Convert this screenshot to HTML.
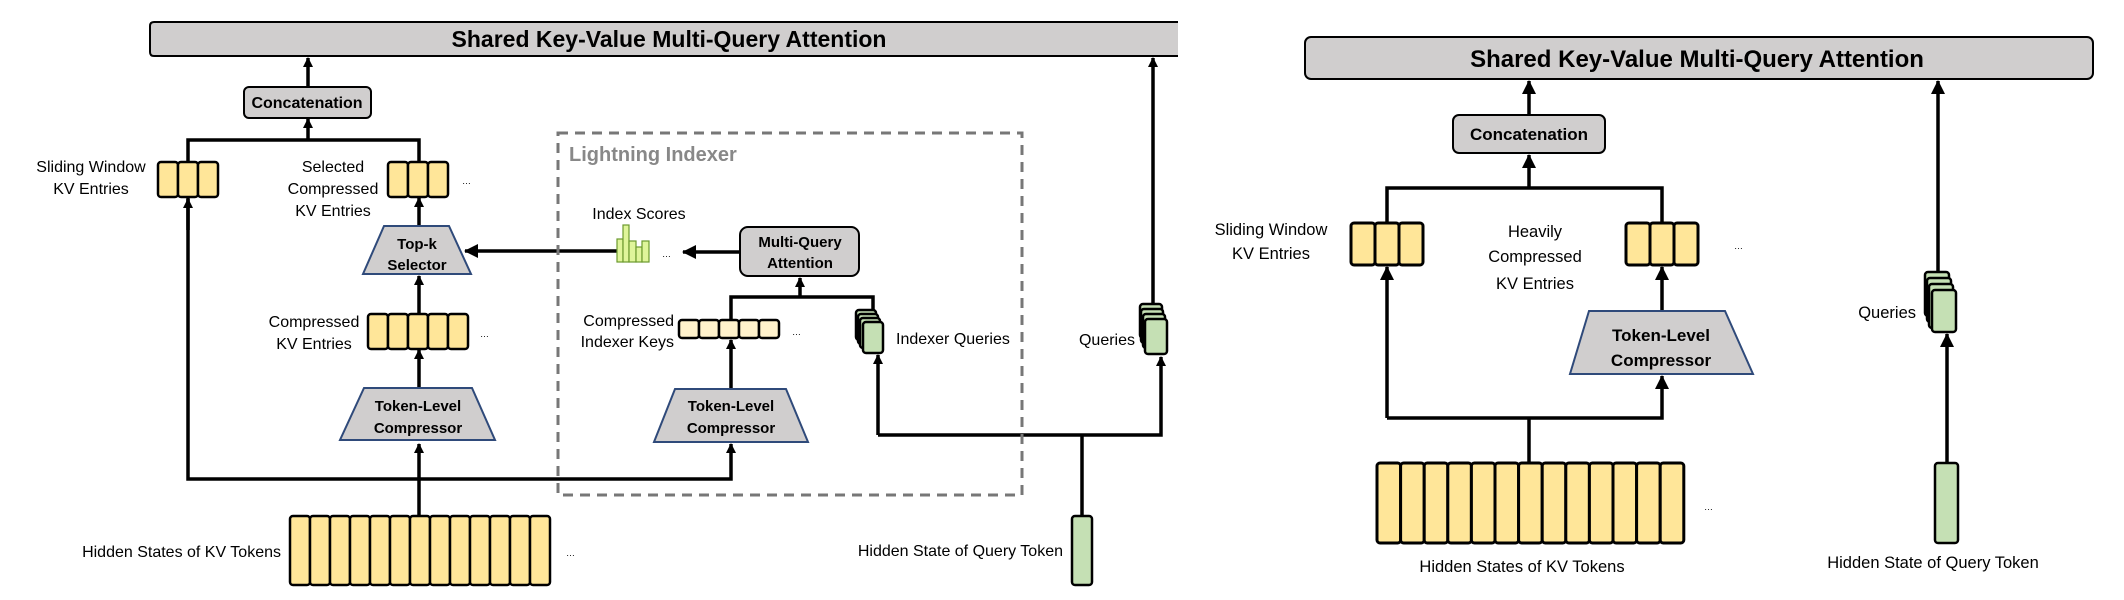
<!DOCTYPE html>
<html><head><meta charset="utf-8"><style>
html,body{margin:0;padding:0;background:#fff;}
svg{display:block;}
text{font-family:"Liberation Sans",sans-serif;fill:#000;}
.b{font-weight:bold;}
</style></head><body>
<svg width="2124" height="600" viewBox="0 0 2124 600" xmlns="http://www.w3.org/2000/svg">
<defs>
<marker id="a" markerWidth="10" markerHeight="10" refX="9" refY="5" orient="auto" markerUnits="userSpaceOnUse" viewBox="0 0 10 10">
<path d="M0,0 L10,5 L0,10 z" fill="#000"/></marker>
<marker id="a2" markerWidth="14" markerHeight="14" refX="13" refY="7" orient="auto" markerUnits="userSpaceOnUse" viewBox="0 0 14 14">
<path d="M0,0 L14,7 L0,14 z" fill="#000"/></marker>
</defs>
<g fill="none" stroke="#000" stroke-width="3.5">
<line x1="308" y1="87" x2="308" y2="58" marker-end="url(#a)"/>
<polyline points="188,162 188,140 419,140 419,162"/>
<line x1="308" y1="140" x2="308" y2="119" marker-end="url(#a)"/>
<polyline points="419,515 419,444" marker-end="url(#a)"/>
<line x1="419" y1="388" x2="419" y2="350" marker-end="url(#a)"/>
<line x1="419" y1="313" x2="419" y2="276" marker-end="url(#a)"/>
<line x1="419" y1="226" x2="419" y2="198" marker-end="url(#a)"/>
<polyline points="188,198 188,479 731,479 731,444" marker-end="url(#a)"/>
<line x1="188" y1="230" x2="188" y2="199" marker-end="url(#a)"/>
<line x1="617" y1="251" x2="465" y2="251" marker-end="url(#a2)"/>
<line x1="740" y1="252" x2="683" y2="252" marker-end="url(#a2)"/>
<polyline points="731,320 731,297 873,297 873,315"/>
<line x1="800" y1="297" x2="800" y2="278" marker-end="url(#a)"/>
<line x1="731" y1="388" x2="731" y2="340" marker-end="url(#a)"/>
<polyline points="1082,516 1082,435"/>
<polyline points="878,435 1161,435 1161,357" marker-end="url(#a)"/>
<line x1="878" y1="435" x2="878" y2="355" marker-end="url(#a)"/>
<line x1="1153" y1="304" x2="1153" y2="58" marker-end="url(#a)"/>
<line x1="1529" y1="115" x2="1529" y2="81" marker-end="url(#a2)"/>
<polyline points="1387,223 1387,188 1662,188 1662,223"/>
<line x1="1529" y1="188" x2="1529" y2="155" marker-end="url(#a2)"/>
<polyline points="1529,462 1529,418"/>
<polyline points="1387,418 1662,418 1662,376" marker-end="url(#a2)"/>
<line x1="1387" y1="418" x2="1387" y2="267" marker-end="url(#a2)"/>
<line x1="1662" y1="311" x2="1662" y2="267" marker-end="url(#a2)"/>
<line x1="1938" y1="272" x2="1938" y2="81" marker-end="url(#a2)"/>
<line x1="1947" y1="463" x2="1947" y2="334" marker-end="url(#a2)"/>
</g>

<path d="M1178,22 L154,22 Q150,22 150,26 L150,52 Q150,56 154,56 L1178,56" fill="#d0cece" stroke="#000" stroke-width="2"/>
<text x="669" y="47" font-size="23" class="b" text-anchor="middle">Shared Key-Value Multi-Query Attention</text>
<rect x="244" y="87" width="127" height="31" rx="5" fill="#d0cece" stroke="#000" stroke-width="2"/>
<text x="307" y="108" font-size="16" class="b" text-anchor="middle">Concatenation</text>

<g fill="#ffe699" stroke="#000" stroke-width="2.5">
<rect x="158" y="162" width="20" height="35" rx="3"/><rect x="178" y="162" width="20" height="35" rx="3"/><rect x="198" y="162" width="20" height="35" rx="3"/>
<rect x="388" y="162" width="20" height="35" rx="3"/><rect x="408" y="162" width="20" height="35" rx="3"/><rect x="428" y="162" width="20" height="35" rx="3"/>
<rect x="368" y="314" width="20" height="35" rx="3"/><rect x="388" y="314" width="20" height="35" rx="3"/><rect x="408" y="314" width="20" height="35" rx="3"/><rect x="428" y="314" width="20" height="35" rx="3"/><rect x="448" y="314" width="20" height="35" rx="3"/>
</g>
<g fill="#ffe699" stroke="#000" stroke-width="2.5">
<rect x="290" y="516" width="20" height="69" rx="3"/><rect x="310" y="516" width="20" height="69" rx="3"/><rect x="330" y="516" width="20" height="69" rx="3"/><rect x="350" y="516" width="20" height="69" rx="3"/><rect x="370" y="516" width="20" height="69" rx="3"/><rect x="390" y="516" width="20" height="69" rx="3"/><rect x="410" y="516" width="20" height="69" rx="3"/><rect x="430" y="516" width="20" height="69" rx="3"/><rect x="450" y="516" width="20" height="69" rx="3"/><rect x="470" y="516" width="20" height="69" rx="3"/><rect x="490" y="516" width="20" height="69" rx="3"/><rect x="510" y="516" width="20" height="69" rx="3"/><rect x="530" y="516" width="20" height="69" rx="3"/>
</g>
<g fill="#fff2cc" stroke="#000" stroke-width="2.5">
<rect x="679" y="320" width="20" height="18" rx="3"/><rect x="699" y="320" width="20" height="18" rx="3"/><rect x="719" y="320" width="20" height="18" rx="3"/><rect x="739" y="320" width="20" height="18" rx="3"/><rect x="759" y="320" width="20" height="18" rx="3"/>
</g>

<g fill="#d0cece" stroke="#2f4a7a" stroke-width="2">
<polygon points="384,226 449,226 471,274 363,274"/>
<polygon points="364,388 472,388 495,440 340,440"/>
<polygon points="675,389 786,389 808,442 654,442"/>
<polygon points="1589,311 1725,311 1753,374 1570,374"/>
</g>
<g font-size="15" class="b" text-anchor="middle">
<text x="417" y="249">Top-k</text><text x="417" y="270">Selector</text>
<text x="418" y="411">Token-Level</text><text x="418" y="433">Compressor</text>
<text x="731" y="411">Token-Level</text><text x="731" y="433">Compressor</text>
</g>

<rect x="740" y="227" width="119" height="49" rx="8" fill="#d0cece" stroke="#000" stroke-width="2"/>
<g font-size="15" class="b" text-anchor="middle"><text x="800" y="247">Multi-Query</text><text x="800" y="268">Attention</text></g>

<g fill="#dff59a" stroke="#6c9a2e" stroke-width="1.2">
<rect x="617" y="239" width="6" height="23"/><rect x="623" y="225" width="6" height="37"/><rect x="629" y="241" width="7" height="21"/><rect x="636" y="247" width="6" height="15"/><rect x="642" y="241" width="7" height="21"/>
</g>

<rect x="558" y="133" width="464" height="362" fill="none" stroke="#777" stroke-width="3" stroke-dasharray="10,7"/>
<text x="569" y="161" font-size="20" class="b" style="fill:#888">Lightning Indexer</text>

<g stroke="#000" stroke-width="2.5" fill="#c5e0b4">
<rect x="856" y="310" width="20" height="30" rx="3"/><rect x="858" y="314" width="20" height="30" rx="3"/><rect x="860" y="318" width="20" height="30" rx="3"/><rect x="863" y="322" width="20" height="31" rx="3"/>
<rect x="1140" y="304" width="22" height="34" rx="3"/><rect x="1141" y="309" width="22" height="34" rx="3"/><rect x="1143" y="314" width="22" height="34" rx="3"/><rect x="1145" y="319" width="22" height="35" rx="3"/>
<rect x="1072" y="516" width="20" height="69" rx="3"/>
<rect x="1925" y="272" width="24" height="44" rx="3"/><rect x="1927" y="278" width="24" height="44" rx="3"/><rect x="1929" y="284" width="24" height="44" rx="3"/><rect x="1932" y="290" width="24" height="42" rx="3"/>
<rect x="1935" y="463" width="23" height="80" rx="3"/>
</g>

<g font-size="16">
<text x="91" y="172" text-anchor="middle">Sliding Window</text>
<text x="91" y="194" text-anchor="middle">KV Entries</text>
<text x="333" y="172" text-anchor="middle">Selected</text>
<text x="333" y="194" text-anchor="middle">Compressed</text>
<text x="333" y="216" text-anchor="middle">KV Entries</text>
<text x="314" y="327" text-anchor="middle">Compressed</text>
<text x="314" y="349" text-anchor="middle">KV Entries</text>
<text x="639" y="219" text-anchor="middle">Index Scores</text>
<text x="674" y="326" text-anchor="end">Compressed</text>
<text x="674" y="347" text-anchor="end">Indexer Keys</text>
<text x="896" y="344">Indexer Queries</text>
<text x="1135" y="345" text-anchor="end">Queries</text>
<text x="281" y="557" text-anchor="end">Hidden States of KV Tokens</text>
<text x="1063" y="556" text-anchor="end">Hidden State of Query Token</text>
</g>
<g font-size="9"><text x="462" y="184">…</text><text x="480" y="337">…</text><text x="662" y="257">…</text><text x="792" y="335">…</text><text x="566" y="556">…</text></g>

<rect x="1305" y="37" width="788" height="42" rx="6" fill="#d0cece" stroke="#000" stroke-width="2"/>
<text x="1697" y="67" font-size="24" class="b" text-anchor="middle">Shared Key-Value Multi-Query Attention</text>
<rect x="1453" y="115" width="152" height="38" rx="6" fill="#d0cece" stroke="#000" stroke-width="2"/>
<text x="1529" y="140" font-size="17" class="b" text-anchor="middle">Concatenation</text>
<g fill="#ffe699" stroke="#000" stroke-width="3">
<rect x="1351" y="223" width="24" height="42" rx="3"/><rect x="1375" y="223" width="24" height="42" rx="3"/><rect x="1399" y="223" width="24" height="42" rx="3"/>
<rect x="1626" y="223" width="24" height="42" rx="3"/><rect x="1650" y="223" width="24" height="42" rx="3"/><rect x="1674" y="223" width="24" height="42" rx="3"/>
<rect x="1377" y="463" width="23.6" height="80" rx="3"/><rect x="1400.6" y="463" width="23.6" height="80" rx="3"/><rect x="1424.2" y="463" width="23.6" height="80" rx="3"/><rect x="1447.8" y="463" width="23.6" height="80" rx="3"/><rect x="1471.4" y="463" width="23.6" height="80" rx="3"/><rect x="1495" y="463" width="23.6" height="80" rx="3"/><rect x="1518.6" y="463" width="23.6" height="80" rx="3"/><rect x="1542.2" y="463" width="23.6" height="80" rx="3"/><rect x="1565.8" y="463" width="23.6" height="80" rx="3"/><rect x="1589.4" y="463" width="23.6" height="80" rx="3"/><rect x="1613" y="463" width="23.6" height="80" rx="3"/><rect x="1636.6" y="463" width="23.6" height="80" rx="3"/><rect x="1660.2" y="463" width="23.6" height="80" rx="3"/>
</g>
<g font-size="17" class="b" text-anchor="middle"><text x="1661" y="341">Token-Level</text><text x="1661" y="366">Compressor</text></g>
<g font-size="16.5">
<text x="1271" y="235" text-anchor="middle">Sliding Window</text>
<text x="1271" y="259" text-anchor="middle">KV Entries</text>
<text x="1535" y="237" text-anchor="middle">Heavily</text>
<text x="1535" y="262" text-anchor="middle">Compressed</text>
<text x="1535" y="289" text-anchor="middle">KV Entries</text>
<text x="1916" y="318" text-anchor="end">Queries</text>
<text x="1522" y="572" text-anchor="middle">Hidden States of KV Tokens</text>
<text x="1933" y="568" text-anchor="middle">Hidden State of Query Token</text>
</g>
<g font-size="9"><text x="1734" y="249">…</text><text x="1704" y="510">…</text></g>
</svg>
</body></html>
